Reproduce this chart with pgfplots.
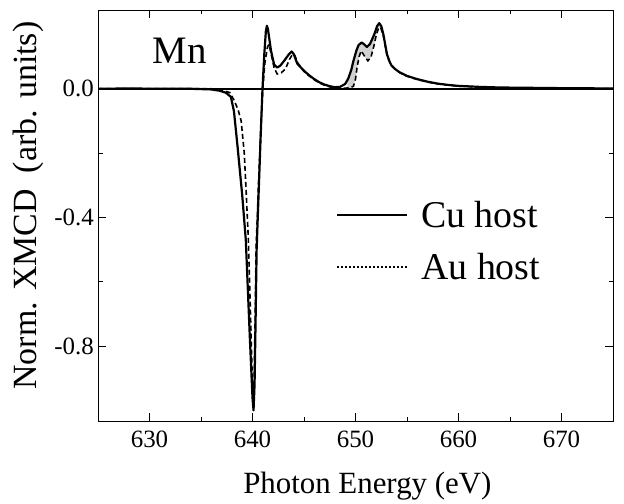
\documentclass[border=0pt]{standalone}
\usepackage{fontspec}
\setmainfont{Liberation Serif}
\usepackage{pgfplots}
\pgfplotsset{compat=1.18}
\usepgfplotslibrary{fillbetween}
\newcommand{\tf}{\fontsize{25}{28}\selectfont}

\begin{document}
\begin{tikzpicture}
\begin{axis}[
  scale only axis, width=515bp, height=411bp,
  xmin=625, xmax=675, ymin=-1.033, ymax=0.245,
  xtick={630,640,650,660,670}, minor x tick num=1,
  xticklabels={{\tf 630},{\tf 640},{\tf 650},{\tf 660},{\tf 670}},
  ytick={-0.8,-0.4,0}, yticklabels={{\tf -0.8},{\tf -0.4},{\tf 0.0}}, minor y tick num=1,
  tick align=inside, major tick length=8bp, minor tick length=4.5bp,
  tick style={line width=0.8bp, black},
  axis line style={line width=0.8bp},
  xticklabel style={inner sep=0bp, yshift=-10bp},
  yticklabel style={inner sep=0bp, xshift=-4bp},
  xlabel={Photon Energy (eV)},
  ylabel={Norm. XMCD\hspace{16bp}(arb. units)},
  xlabel style={font=\fontsize{31}{34}\selectfont, at={(axis description cs:0.523,-0.176)}, anchor=base},
  ylabel style={font=\fontsize{34}{38}\selectfont, at={(axis description cs:-0.136,0.524)}, anchor=center},
  legend style={draw=none, fill=none, at={(axis cs:648.1,-0.4735)}, anchor=west,
    font=\fontsize{38}{42}\selectfont, row sep=20bp, inner sep=0pt,
    nodes={inner sep=2bp}, cells={anchor=west}},
  /tikz/every odd column/.append style={column sep=11bp},
  legend image code/.code={\draw[#1] (0bp,0bp) -- (70bp,0bp);},
]

% zero line
\addplot[forget plot, line width=1.6bp] coordinates {(625,0) (675,0)};

% Cu host
\addplot[forget plot, name path=cu, line width=2.2bp, line join=round] table {
625.0 0.000
628.0 0.001
631.0 0.000
634.0 0.000
636.0 -0.002
636.8 -0.006
637.4 -0.012
637.9 -0.025
638.2 -0.07
638.55 -0.18
639.0 -0.33
639.35 -0.47
639.75 -0.78
640.0 -0.96
640.1 -1.0
640.2 -0.92
640.3 -0.72
640.4 -0.50
640.6 -0.32
640.8 -0.14
640.97 0.0
641.15 0.11
641.3 0.18
641.4 0.196
641.5 0.185
641.8 0.118
642.1 0.075
642.4 0.066
642.7 0.072
643.1 0.088
643.5 0.106
643.8 0.116
644.0 0.108
644.35 0.078
645.0 0.056
645.5 0.042
646.0 0.030
646.5 0.020
647.0 0.013
647.5 0.008
648.0 0.005
648.5 0.006
649.0 0.015
649.3 0.032
649.6 0.060
649.8 0.087
650.1 0.120
650.3 0.136
650.6 0.144
650.85 0.138
651.1 0.130
651.4 0.139
651.7 0.160
651.9 0.176
652.1 0.195
652.3 0.204
652.5 0.195
652.7 0.170
652.9 0.135
653.05 0.108
653.3 0.085
653.5 0.072
653.9 0.060
654.3 0.051
655.0 0.040
656.0 0.030
657.0 0.022
658.0 0.016
659.0 0.012
660.0 0.009
662.0 0.006
664.0 0.004
667.0 0.003
670.0 0.002
675.0 0.001
};

% Au host
\addplot[forget plot, name path=au, line width=1.6bp, dash pattern=on 5bp off 3bp] table {
625.0 0.000
630.0 0.000
636.0 0.000
637.0 -0.004
637.8 -0.012
638.2 -0.035
638.6 -0.065
638.9 -0.10
639.2 -0.20
639.4 -0.33
639.6 -0.47
639.85 -0.75
640.0 -0.93
640.05 -0.99
640.15 -0.92
640.25 -0.72
640.35 -0.50
640.55 -0.32
640.8 -0.13
641.0 0.0
641.2 0.08
641.45 0.13
641.6 0.138
641.8 0.11
642.1 0.065
642.4 0.046
642.8 0.050
643.2 0.062
643.6 0.092
643.9 0.108
644.1 0.104
644.4 0.080
645.0 0.054
645.5 0.040
646.0 0.028
646.5 0.018
647.0 0.011
647.5 0.006
648.0 0.003
648.5 0.002
649.0 0.002
649.5 0.003
649.8 0.008
650.0 0.030
650.15 0.066
650.35 0.100
650.55 0.118
650.9 0.100
651.2 0.087
651.5 0.098
651.8 0.135
652.0 0.165
652.25 0.190
652.45 0.190
652.7 0.165
652.9 0.130
653.1 0.100
653.4 0.078
653.8 0.062
654.3 0.050
655.0 0.039
656.0 0.029
657.0 0.021
658.0 0.015
660.0 0.008
664.0 0.003
670.0 0.001
675.0 0.000
};

\addplot[black!18, forget plot] fill between[of=cu and au, soft clip={domain=649.2:653.3}];

\addlegendimage{line width=2.2bp}
\addlegendentry{Cu host}
\addlegendimage{line width=1.2bp, dash pattern=on 2bp off 2bp}
\addlegendentry{Au host}

\node[anchor=base west, inner sep=0pt, font=\fontsize{39}{42}\selectfont] at (axis cs:630.3,0.078) {Mn};
\end{axis}
\path (current axis.south west) ++(-98bp,-81bp) rectangle ++(624bp,502bp);
\end{tikzpicture}
\end{document}
